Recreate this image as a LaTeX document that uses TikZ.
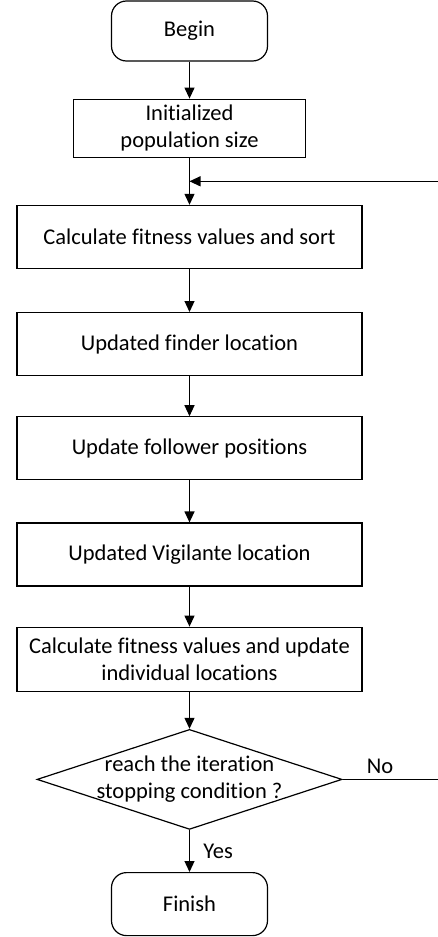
\documentclass[tikz,border=0pt]{standalone}
\usepackage{fontspec}
\setmainfont[Ligatures=NoCommon]{Carlito}
\usetikzlibrary{positioning,shapes.geometric,arrows.meta,calc}
\begin{document}
\begin{tikzpicture}[
      x=1pt, y=-1pt,
      line width=1.2pt,
      >={Triangle[width=10pt,length=11pt]},
      font=\fontsize{22.5}{27}\selectfont,
      bloc/.style={
        draw,
        rectangle,
        align=center,
        minimum width=345pt,
        minimum height=63pt
      },
      borne/.style={
        draw,
        rectangle,
        rounded corners=15pt,
        minimum width=156pt,
        minimum height=60pt
      },
      test/.style={
        draw,
        diamond,
        align=center,
        aspect=3,
        inner xsep=-30pt,
        inner ysep=-6pt,
        minimum width=305pt,
        minimum height=100pt
      }
    ]
    \useasboundingbox (0,0) rectangle (438,937);
    \clip (0,0) rectangle (438,937);
    \node[borne] (begin) at (189.5,31) {Begin} ;
    \node[bloc, minimum width=232pt, minimum height=58pt, below=37pt of begin] (init) {Initialized\\population size} ;
    \node[bloc, below=47pt of init] (fit1) {Calculate fitness values and sort} ;
    \node[bloc, below=43pt of fit1] (finder) {Updated finder location} ;
    \node[bloc, below=40pt of finder] (follow) {Update follower positions} ;
    \node[bloc, below=42pt of follow] (vigil) {Updated Vigilante location} ;
    \node[bloc, minimum height=64pt, below=40pt of vigil] (fit2) {Calculate fitness values and update\\individual locations} ;
    \node[test, below=37pt of fit2] (cond) {reach the iteration\\stopping condition ?} ;
    \node[borne, minimum height=63pt, below=42pt of cond] (finish) {Finish} ;
    \coordinate (jonction) at ($(init.south)!0.5!(fit1.north)$);
    \draw[->] (begin) -- (init);
    \draw[->] (init) -- (fit1);
    \draw[->] (fit1) -- (finder);
    \draw[->] (finder) -- (follow);
    \draw[->] (follow) -- (vigil);
    \draw[->] (vigil) -- (fit2);
    \draw[->] (fit2) -- (cond);
    \draw[->] (cond) -- node[right=10pt] {Yes} (finish);
    \draw[->] (cond.east) -- ++(110,0) node[pos=0.34, above, yshift=2pt] {No} |- (jonction);
  \end{tikzpicture}
\end{document}
